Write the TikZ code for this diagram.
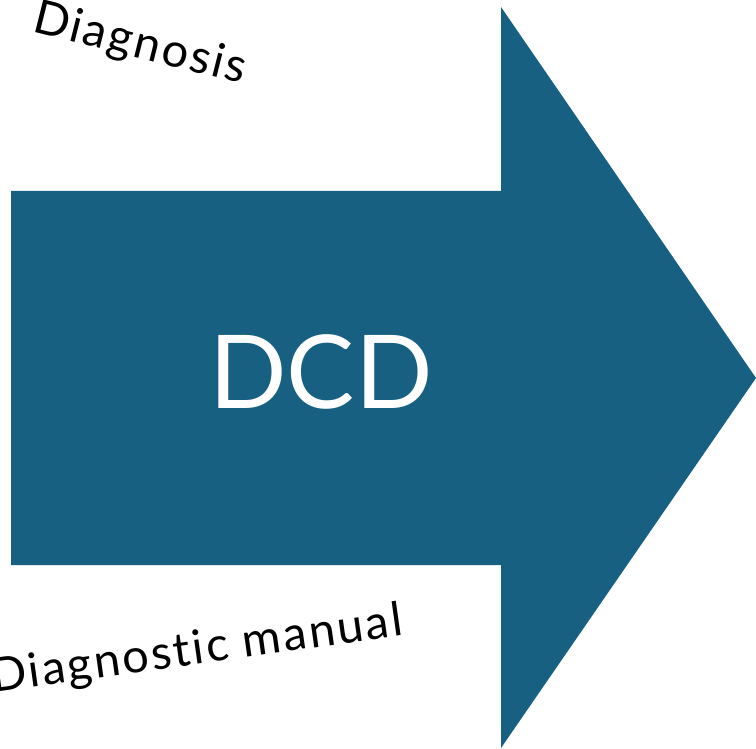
\documentclass[tikz,border=0pt]{standalone}
\usepackage{fontspec}
\setmainfont{Lato}
\newfontfamily\widefont[LetterSpace=5,Ligatures=NoCommon]{Lato}
\usepackage{tikz}
\definecolor{arrowblue}{RGB}{23,96,130}
\tikzset{
  side label/.style={font=\widefont\fontsize{47}{50}\selectfont, inner sep=0pt},
}

\begin{document}
\begin{tikzpicture}[x=1pt,y=-1pt]
  \useasboundingbox (0,0) rectangle (756,749);

  \newcommand\ShaftTop{191};
  \newcommand\ShaftBot{565};
  \newcommand\HeadX{501};

  % big block arrow
  \fill[arrowblue] (11,\ShaftTop) -- (\HeadX,\ShaftTop) -- (\HeadX,7)
    -- (756,378) -- (\HeadX,748) -- (\HeadX,\ShaftBot) -- (11,\ShaftBot) -- cycle;

  \node[text=white, font=\fontsize{102}{110}\selectfont, inner sep=0pt] (dcd) at (321,372) {DCD};

  % tilted labels
  \node[side label, rotate=-14] (diag) at (140,45) {Diagnosis};
  \node[side label, rotate=8] (manual) at (197,651) {Diagnostic manual};
\end{tikzpicture}
\end{document}
